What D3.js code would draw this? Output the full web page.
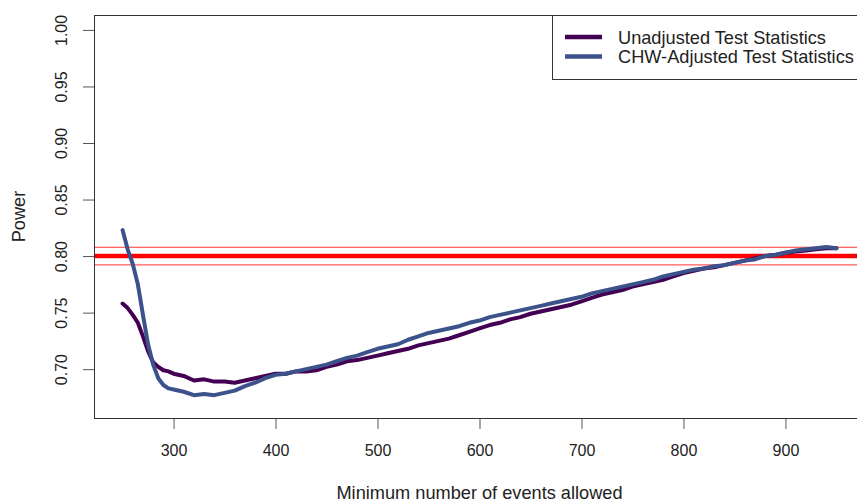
<!DOCTYPE html>
<html>
<head>
<meta charset="utf-8">
<script src="https://cdn.jsdelivr.net/npm/d3@7"></script>
<style>
  html, body { margin: 0; padding: 0; background: #fff; }
  svg { display: block; font-family: "Liberation Sans", Arial, sans-serif; }
</style>
</head>
<body>
<svg id="chart" width="857" height="502"></svg>
<script>
// Minimum number of events allowed
const events = [250,255,260,265,270,275,280,285,290,295,300,310,320,330,340,350,360,370,380,390,
  400,410,420,430,440,450,460,470,480,490,500,510,520,530,540,550,560,570,580,590,
  600,610,620,630,640,650,660,670,680,690,700,710,720,730,740,750,760,770,780,790,
  800,810,820,830,840,850,860,870,880,890,900,910,920,930,940,950];

// Power, unadjusted test statistics
const unadjusted = [0.758,0.754,0.748,0.741,0.729,0.716,0.706,0.702,0.699,0.698,0.696,0.694,0.690,0.691,0.689,0.689,0.688,0.690,0.692,0.694,
  0.696,0.696,0.698,0.698,0.699,0.702,0.704,0.707,0.708,0.710,0.712,0.714,0.716,0.718,0.721,0.723,0.725,0.727,0.730,0.733,
  0.736,0.739,0.741,0.744,0.746,0.749,0.751,0.753,0.755,0.757,0.760,0.763,0.766,0.768,0.770,0.773,0.775,0.777,0.779,0.782,
  0.785,0.787,0.789,0.790,0.792,0.794,0.796,0.798,0.800,0.801,0.803,0.804,0.805,0.806,0.807,0.807];

// Power, CHW-adjusted test statistics
const chwAdjusted = [0.823,0.806,0.793,0.775,0.748,0.722,0.704,0.692,0.686,0.683,0.682,0.680,0.677,0.678,0.677,0.679,0.681,0.685,0.688,0.692,
  0.695,0.696,0.698,0.700,0.702,0.704,0.707,0.710,0.712,0.715,0.718,0.720,0.722,0.726,0.729,0.732,0.734,0.736,0.738,0.741,
  0.743,0.746,0.748,0.750,0.752,0.754,0.756,0.758,0.760,0.762,0.764,0.767,0.769,0.771,0.773,0.775,0.777,0.779,0.782,0.784,
  0.786,0.788,0.789,0.791,0.792,0.794,0.796,0.797,0.800,0.801,0.803,0.805,0.806,0.807,0.808,0.807];

const xTicks = [300, 400, 500, 600, 700, 800, 900];
const yTicks = [0.70, 0.75, 0.80, 0.85, 0.90, 0.95, 1.00];

// Target power and its simulation band
const target = 0.80;
const band = [0.7922, 0.8078];

const seriesNames = ["Unadjusted Test Statistics", "CHW-Adjusted Test Statistics"];
const seriesColors = ["#440154", "#3B528B"];

const svg = d3.select("#chart");
const pLeft = 94, pRight = 865, pTop = 15, pBottom = 418;
const axisColor = "#333";

const x = d3.scaleLinear().domain([222, 978]).range([pLeft, pRight]);
const y = d3.scaleLinear().domain([0.6568, 1.0132]).range([pBottom, pTop]);

// Axes
const xAxis = svg.append("g").attr("transform", `translate(0,${pBottom})`)
  .call(d3.axisBottom(x).tickValues(xTicks).tickSize(11).tickFormat(d3.format("d")));
const yAxis = svg.append("g").attr("transform", `translate(${pLeft},0)`)
  .call(d3.axisLeft(y).tickValues(yTicks).tickSize(11).tickFormat(d3.format(".2f")));
[xAxis, yAxis].forEach(g => {
  g.select(".domain").remove();
  g.selectAll(".tick line").attr("stroke", "#555");
  g.selectAll("text").attr("fill", "#222").style("font-size", "16px").style("font-family", "Liberation Sans, Arial, sans-serif");
});
xAxis.selectAll(".tick text").attr("dy", "0.71em").attr("y", 27);
yAxis.selectAll(".tick text")
  .attr("x", null).attr("dy", null).attr("text-anchor", "middle")
  .attr("transform", "translate(-31,0) rotate(-90)")
  .attr("y", 0).attr("dominant-baseline", "middle");

// Plot frame
svg.append("rect")
  .attr("x", pLeft + 0.5).attr("y", pTop + 0.5)
  .attr("width", pRight - pLeft).attr("height", pBottom - pTop)
  .attr("fill", "none").attr("stroke", axisColor).attr("stroke-width", 1);

// Target power lines
band.forEach(v => {
  svg.append("line")
    .attr("x1", pLeft + 1).attr("x2", pRight).attr("y1", y(v)).attr("y2", y(v))
    .attr("stroke", "#ff0000").attr("stroke-opacity", 0.8).attr("stroke-width", 1);
});
svg.append("line")
  .attr("x1", pLeft + 1).attr("x2", pRight).attr("y1", y(target)).attr("y2", y(target))
  .attr("stroke", "#ff0000").attr("stroke-width", 4.5);

// Power curves
const line = d3.line().x((d, i) => x(events[i])).y(d => y(d));
[unadjusted, chwAdjusted].forEach((vals, k) => {
  svg.append("path").datum(vals)
    .attr("d", line)
    .attr("fill", "none")
    .attr("stroke", seriesColors[k])
    .attr("stroke-width", 4)
    .attr("stroke-linejoin", "round")
    .attr("stroke-linecap", "round");
});

// Legend
const lg = svg.append("g");
lg.append("rect")
  .attr("x", 552.5).attr("y", pTop + 0.5).attr("width", pRight - 552).attr("height", 64)
  .attr("fill", "#fff").attr("stroke", axisColor).attr("stroke-width", 1);
seriesNames.forEach((name, k) => {
  const yy = 37 + k * 19.5;
  lg.append("line").attr("x1", 565).attr("x2", 602).attr("y1", yy).attr("y2", yy)
    .attr("stroke", seriesColors[k]).attr("stroke-width", 4.5);
  lg.append("text").attr("x", 618).attr("y", yy).attr("dy", "0.36em")
    .attr("fill", "#222").style("font-size", "18.2px").text(name);
});

// Axis titles
svg.append("text")
  .attr("x", (pLeft + pRight) / 2).attr("y", 499)
  .attr("text-anchor", "middle").attr("fill", "#222").style("font-size", "18.2px")
  .text("Minimum number of events allowed");
svg.append("text")
  .attr("transform", `translate(25,${(pTop + pBottom) / 2}) rotate(-90)`)
  .attr("text-anchor", "middle").attr("fill", "#222").style("font-size", "18.2px")
  .text("Power");
</script>
</body>
</html>
